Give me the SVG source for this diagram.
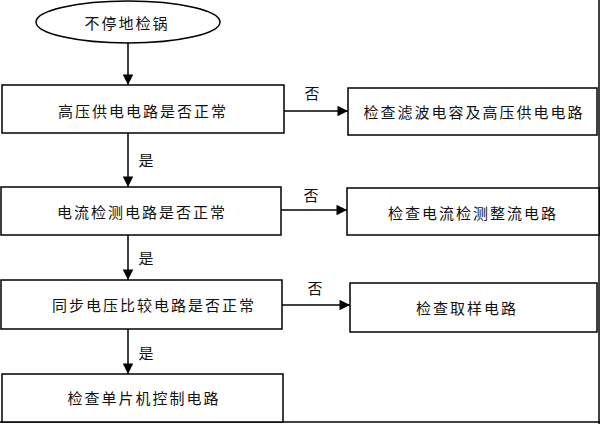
<svg xmlns="http://www.w3.org/2000/svg" width="600" height="424" viewBox="0 0 600 424">
<defs>
<style>
.box{fill:#fff;stroke:#000;stroke-width:1.5}
.t{font-family:"Liberation Sans","Noto Sans CJK SC",sans-serif;font-size:15px;letter-spacing:2px;fill:#111;text-anchor:middle;dominant-baseline:central}
.l{font-family:"Liberation Sans","Noto Sans CJK SC",sans-serif;font-size:15px;fill:#111;text-anchor:middle;dominant-baseline:central}
.c{stroke:#000;stroke-width:1.5;fill:none;marker-end:url(#ah)}
</style>
<marker id="ah" viewBox="0 0 10 10" refX="10" refY="5" markerWidth="8" markerHeight="7" markerUnits="strokeWidth" orient="auto">
<path d="M0,0 L10,5 L0,10 z" fill="#000"/>
</marker>
</defs>
<rect width="600" height="424" fill="#fff"/>
<line x1="599" y1="0" x2="599" y2="424" stroke="#000" stroke-width="1.5"/>
<line x1="0" y1="422" x2="600" y2="422" stroke="#000" stroke-width="1.5"/>
<g id="connectors">
<line class="c" x1="128" y1="43" x2="128" y2="85"/>
<line class="c" x1="284" y1="111" x2="348" y2="111"/>
<line class="c" x1="128" y1="133" x2="128" y2="187"/>
<line class="c" x1="281" y1="210" x2="347" y2="210"/>
<line class="c" x1="128" y1="235" x2="128" y2="280"/>
<line class="c" x1="282" y1="305" x2="350" y2="305"/>
<line class="c" x1="128" y1="329" x2="128" y2="374"/>
<text class="l" x="312" y="93">否</text>
<text class="l" x="146" y="160">是</text>
<text class="l" x="311" y="195">否</text>
<text class="l" x="146" y="258">是</text>
<text class="l" x="315" y="288">否</text>
<text class="l" x="146" y="353">是</text>
</g>
<g id="start">
<ellipse cx="128" cy="22" rx="92" ry="21" fill="#fff" stroke="#000" stroke-width="1.5"/>
<text class="t" x="127" y="23">不停地检锅</text>
</g>
<g id="n1">
<rect class="box" x="2" y="85" width="282" height="48"/>
<text class="t" x="143" y="111">高压供电电路是否正常</text>
</g>
<g id="n2">
<rect class="box" x="348" y="88" width="249" height="47"/>
<text class="t" x="474" y="112">检查滤波电容及高压供电电路</text>
</g>
<g id="n3">
<rect class="box" x="1" y="187" width="280" height="48"/>
<text class="t" x="142" y="212">电流检测电路是否正常</text>
</g>
<g id="n4">
<rect class="box" x="347" y="188" width="252" height="47"/>
<text class="t" x="473" y="213">检查电流检测整流电路</text>
</g>
<g id="n5">
<rect class="box" x="1" y="280" width="281" height="49"/>
<text class="t" x="154" y="305">同步电压比较电路是否正常</text>
</g>
<g id="n6">
<rect class="box" x="350" y="283" width="247" height="49"/>
<text class="t" x="467" y="308">检查取样电路</text>
</g>
<g id="n7">
<rect class="box" x="2" y="374" width="281" height="48"/>
<text class="t" x="144" y="398">检查单片机控制电路</text>
</g>
</svg>
